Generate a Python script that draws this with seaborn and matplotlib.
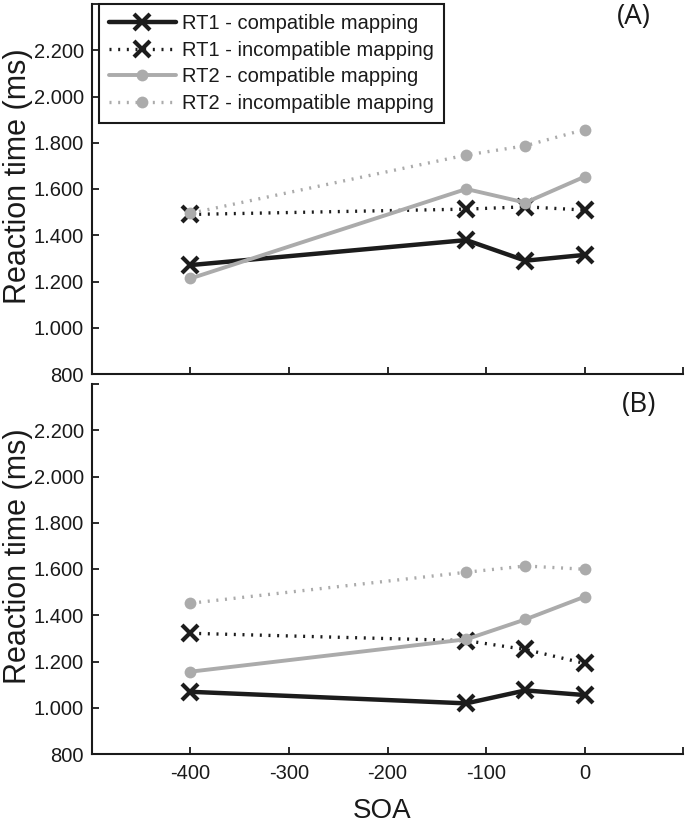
import matplotlib
matplotlib.use("Agg")
import matplotlib.pyplot as plt
import seaborn as sns
import numpy as np

# ---- data ----
soa = [-400, -120, -60, 0]
series_names = ["RT1 - compatible mapping", "RT1 - incompatible mapping",
                "RT2 - compatible mapping", "RT2 - incompatible mapping"]

# Panel A
a_rt1_comp = [1271, 1379, 1290, 1315]
a_rt1_incomp = [1490, 1513, 1523, 1509]
a_rt2_comp = [1213, 1600, 1541, 1653]
a_rt2_incomp = [1495, 1747, 1787, 1857]

# Panel B
b_rt1_comp = [1069, 1019, 1075, 1055]
b_rt1_incomp = [1322, 1290, 1252, 1192]
b_rt2_comp = [1156, 1296, 1382, 1480]
b_rt2_incomp = [1452, 1586, 1613, 1599]

panel_labels = ["(A)", "(B)"]
yticks = [800, 1000, 1200, 1400, 1600, 1800, 2000, 2200, 2400]
ytick_labels = ["800", "1.000", "1.200", "1.400", "1.600", "1.800", "2.000", "2.200", ""]
xticks = [-400, -300, -200, -100, 0, 100]
xtick_labels = ["-400", "-300", "-200", "-100", "0", ""]

sns.set_style("white")
plt.rcParams["font.family"] = ["Liberation Sans", "DejaVu Sans"]

BLACK = "#1c1c1c"
GRAY = "#ababab"
DOT = (0, (0.6, 2.0))

styles = [
    dict(color=BLACK, linestyle="-", lw=3.2, marker="x", ms=12, mew=3.0),
    dict(color=BLACK, linestyle=DOT, lw=2.4, marker="x", ms=12, mew=3.0),
    dict(color=GRAY, linestyle="-", lw=2.8, marker="o", ms=8.5, mew=0),
    dict(color=GRAY, linestyle=DOT, lw=2.4, marker="o", ms=8.5, mew=0),
]

fig = plt.figure(figsize=(6.85, 8.25), dpi=100)
W, H = 685.0, 825.0
left = 92 / W
width = (683 - 92) / W
ax1 = fig.add_axes([left, 1 - 374 / H, width, 370 / H])
ax2 = fig.add_axes([left, 1 - 754 / H, width, 370 / H])

panels = [
    (ax1, [a_rt1_comp, a_rt1_incomp, a_rt2_comp, a_rt2_incomp]),
    (ax2, [b_rt1_comp, b_rt1_incomp, b_rt2_comp, b_rt2_incomp]),
]

for i, (ax, data) in enumerate(panels):
    for name, vals, st in zip(series_names, data, styles):
        sns.lineplot(x=soa, y=vals, ax=ax, sort=False, estimator=None,
                     color=st["color"], linestyle=st["linestyle"],
                     linewidth=st["lw"], marker=st["marker"],
                     markersize=st["ms"], markeredgewidth=st["mew"],
                     markeredgecolor=st["color"], markerfacecolor=st["color"],
                     label=name, legend=False)
    ax.set_xlim(-500, 100)
    ax.set_ylim(800, 2400)
    ax.set_yticks(yticks)
    ax.set_yticklabels(ytick_labels)
    ax.set_xticks(xticks)
    if i == 0:
        ax.set_xticklabels([""] * len(xticks))
    else:
        ax.set_xticklabels(xtick_labels)
    for s in ["top", "right"]:
        ax.spines[s].set_visible(False)
    for s in ["left", "bottom"]:
        ax.spines[s].set_color("#1a1a1a")
        ax.spines[s].set_linewidth(1.5)
    ax.tick_params(axis="x", bottom=True, top=False)
    ax.tick_params(axis="y", left=True, right=False)
    ax.tick_params(axis="both", direction="in", length=5, width=1.3,
                   colors="#1a1a1a", labelsize=14.5, labelcolor="#1a1a1a")
    ax.tick_params(axis="x", pad=7)
    ax.tick_params(axis="y", pad=6)
    ax.set_ylabel("Reaction time (ms)", fontsize=22, color="#1a1a1a")
    ax.yaxis.set_label_coords(-0.099, 0.534)
    ax.set_xlabel("")
    if ax.get_legend() is not None:
        ax.get_legend().remove()

ax1.text(0.917, 0.965, panel_labels[0], transform=ax1.transAxes,
         ha="center", va="center", fontsize=20, family=["Open Sans", "DejaVu Sans"],
         color="#1a1a1a")
ax2.text(0.925, 0.943, panel_labels[1], transform=ax2.transAxes,
         ha="center", va="center", fontsize=20, family=["Open Sans", "DejaVu Sans"],
         color="#1a1a1a")

ax2.set_xlabel("SOA", fontsize=20, color="#1a1a1a")
ax2.xaxis.set_label_coords(0.49, -0.119)

leg = ax1.legend(loc="upper left", bbox_to_anchor=(7 / 591, 1.0),
                 borderaxespad=0, fontsize=14.5, handlelength=3.3,
                 handletextpad=0.3, labelspacing=0.38, borderpad=0.5,
                 fancybox=False, framealpha=1, edgecolor="#1a1a1a",
                 numpoints=1)
leg.get_frame().set_linewidth(1.5)
for t in leg.get_texts():
    t.set_color("#1a1a1a")

fig.savefig("out.png", dpi=100)
